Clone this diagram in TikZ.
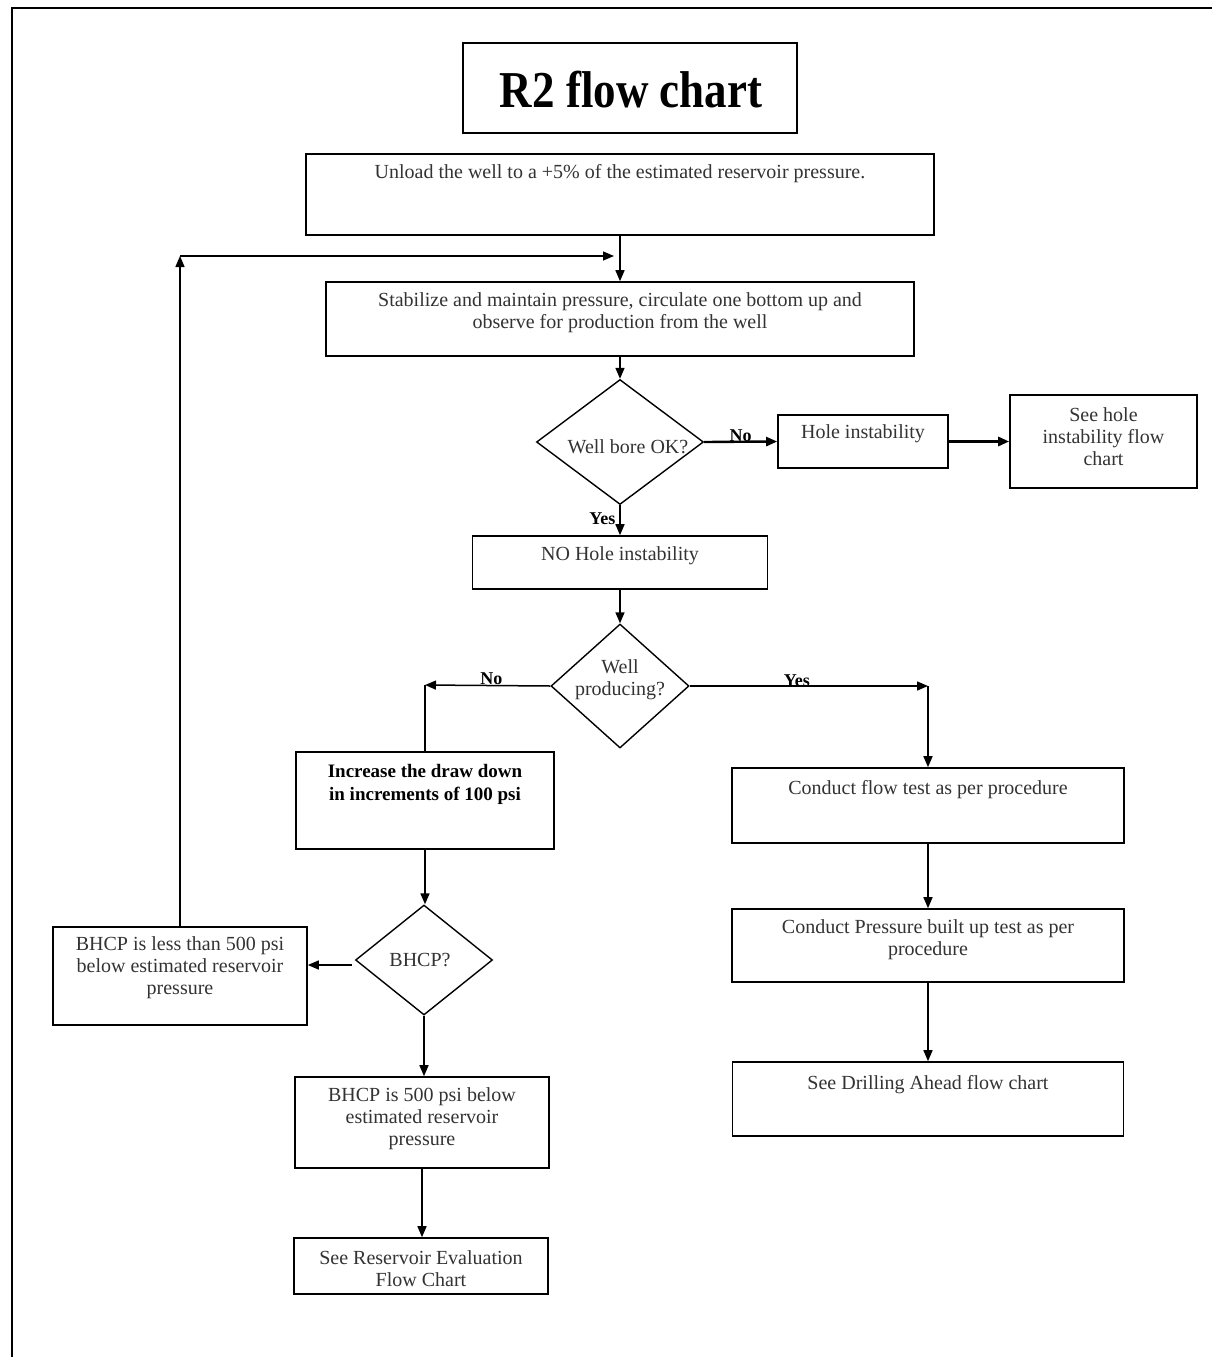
\documentclass[tikz,border=0pt]{standalone}
\usepackage{fontspec}
\setmainfont{Liberation Serif}
\usetikzlibrary{shapes.geometric,arrows.meta}
\definecolor{txtgray}{HTML}{333333}
\begin{document}
\begin{tikzpicture}[x=1pt,y=-1pt,
  box/.style={draw, line width=1.6pt, rectangle, inner sep=0pt},
  dia/.style={draw, line width=1.4pt, diamond, inner sep=0pt},
  txt/.style={text=txtgray, align=center, font=\fontsize{20}{22}\selectfont, inner sep=0pt},
  lab/.style={font=\fontsize{18}{20}\selectfont\bfseries, inner sep=1pt},
  arr/.style={line width=1.5pt, -{Triangle[length=11pt,width=9pt]}},
  ln/.style={line width=1.5pt}]
\useasboundingbox (0,0) rectangle (1212,1357);
\fill[white] (0,0) rectangle (1212,1357);
% frame
\draw[line width=2pt] (12,1357) -- (12,8) -- (1212,8);

% title
\node[box, minimum width=334pt, minimum height=90pt] (title) at (630,88) {};
\node[font=\fontsize{45}{50}\selectfont\bfseries, inner sep=0pt] (titlet) at (631,90) {\scalebox{1}[1.15]{R2 flow chart}};

% boxes
\node[box, minimum width=628pt, minimum height=81pt] (unload) at (620,194.5) {};
\node[txt] (unloadt) at (620,174) {Unload the well to a +5\% of the estimated reservoir pressure.};

\node[box, minimum width=588pt, minimum height=74pt] (stab) at (620,319) {};
\node[txt] (stabt) at (620,313) {Stabilize and maintain pressure, circulate one bottom up and\\observe for production from the well};

\node[dia, minimum width=167pt, minimum height=125pt] (wb) at (620,442) {};
\node[txt] (wbt) at (628,447) {Well bore OK?};

\node[box, minimum width=170pt, minimum height=53pt] (hole) at (863,441.5) {};
\node[txt] (holet) at (863,434) {Hole instability};

\node[box, minimum width=187pt, minimum height=93pt] (seehole) at (1103.5,441.5) {};
\node[txt] (seeholet) at (1103.5,437) {See hole\\instability flow\\chart};

\node[box, minimum width=295pt, minimum height=53pt] (nohole) at (620,562.5) {};
\node[txt] (noholet) at (620,556) {NO Hole instability};

\node[dia, minimum width=138pt, minimum height=124pt] (wp) at (620,686) {};
\node[txt] (wpt) at (620,680) {Well\\producing?};

\node[box, minimum width=258pt, minimum height=97pt] (incr) at (425,800.5) {};
\node[txt, text=black, font=\fontsize{19}{23}\selectfont\bfseries] (incrt) at (425,784) {Increase the draw down\\in increments of 100 psi};

\node[dia, minimum width=137pt, minimum height=110pt] (bhcp) at (424,960) {};
\node[txt] (bhcpt) at (420,960) {BHCP?};

\node[box, minimum width=254pt, minimum height=98pt] (less) at (180,976) {};
\node[txt] (lesst) at (180,968) {BHCP is less than 500 psi\\below estimated reservoir\\pressure};

\node[box, minimum width=254pt, minimum height=91pt] (p500) at (422,1122.5) {};
\node[txt] (p500t) at (422,1119) {BHCP is 500 psi below\\estimated reservoir\\pressure};

\node[box, minimum width=254pt, minimum height=56pt] (res) at (421,1266) {};
\node[txt] (rest) at (421,1269) {See Reservoir Evaluation\\Flow Chart};

\node[box, minimum width=392pt, minimum height=75pt] (flow) at (928,805.5) {};
\node[txt] (flowt) at (928,790) {Conduct flow test as per procedure};

\node[box, minimum width=392pt, minimum height=73pt] (pbu) at (928,945.5) {};
\node[txt] (pbut) at (928,940) {Conduct Pressure built up test as per\\procedure};

\node[box, minimum width=391pt, minimum height=74pt] (drill) at (928,1099) {};
\node[txt] (drillt) at (928,1085) {See Drilling Ahead flow chart};

% coordinates
\coordinate (cL) at (180,256);
\coordinate (cR) at (614,256);
\coordinate (nL) at (425,685);
\coordinate (bw) at (352,965);

% connectors
\draw[arr] (unload.south) -- (stab.north);
\draw[arr] (less.north) -- (cL);
\draw[arr] (cL) -- (cR);
\draw[arr] (stab.south) -- (wb.north);
\draw[arr, line width=2.4pt] (wb.east) -- node[lab, above, pos=0.5, yshift=-2pt] (lno1) {No} (hole.west);
\draw[arr, line width=3.5pt] (hole.east) -- (seehole.west);
\draw[arr] (wb.south) -- node[lab, left, pos=0.45, xshift=-3pt] (lyes1) {Yes} (nohole.north);
\draw[arr] (nohole.south) -- (wp.north);
\draw[arr] (wp.west) -- node[lab, above, pos=0.47, yshift=-1pt] (lno2) {No} (nL);
\draw[ln] (nL) -- (incr.north);
\draw[arr] (wp.east) -- node[lab, above, pos=0.45, yshift=-2pt] (lyes2) {Yes} (wp.east -| flow.north);
\draw[arr] (wp.east -| flow.north) -- (flow.north);
\draw[arr] (incr.south) -- (incr.south |- bhcp.north);
\draw[arr] (bw) -- (bw -| less.east);
\draw[arr] (bhcp.south) -- (bhcp.south |- p500.north);
\draw[arr] (p500.south) -- (p500.south |- res.north);
\draw[arr] (flow.south) -- (pbu.north);
\draw[arr] (pbu.south) -- (drill.north);
\end{tikzpicture}
\end{document}
